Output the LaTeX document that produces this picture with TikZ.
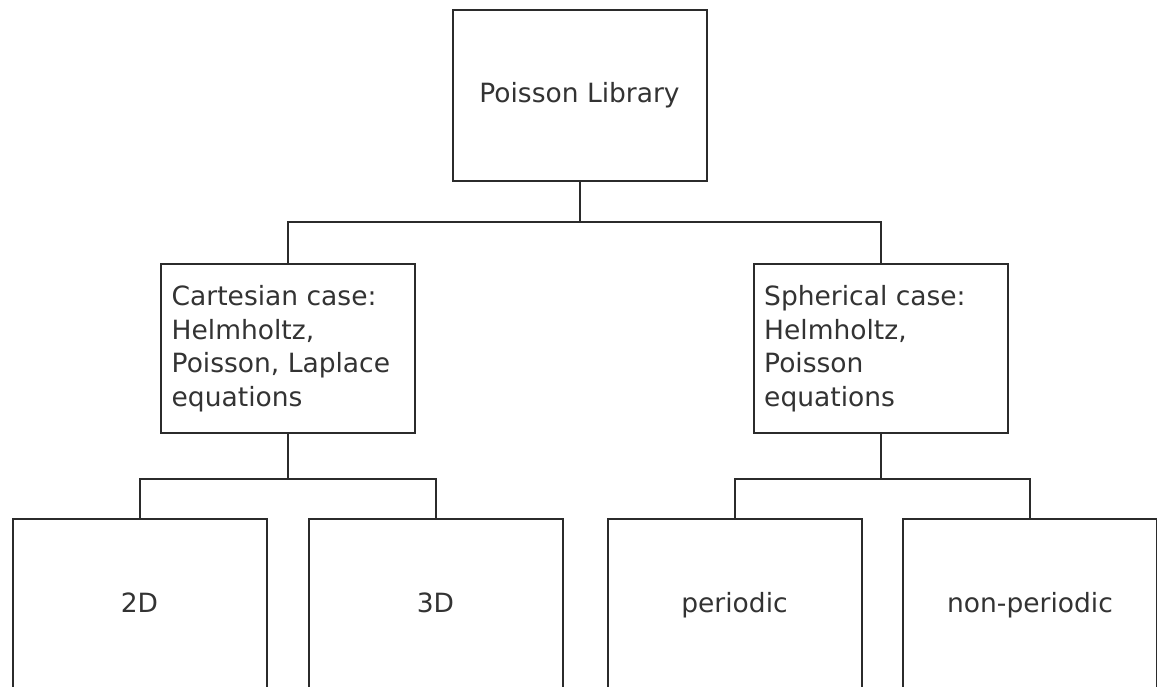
\documentclass[tikz,border=0pt]{standalone}
\usepackage{fontspec}
\setmainfont{DejaVu Sans}
\definecolor{ink}{HTML}{2B2B2B}
\definecolor{txt}{HTML}{333333}
\begin{document}
\begin{tikzpicture}[x=1pt,y=-1pt,
  box/.style={draw=ink, line width=2pt, fill=white, minimum width=254pt,
    inner sep=0pt, text height=19.3pt, text depth=4.3pt,
    font=\fontsize{26.5}{33.5}\selectfont, text=txt},
  tall/.style={box, minimum height=171pt},
  mid/.style={box, minimum height=169.5pt},
  label/.style={anchor=west, align=left, inner sep=0pt, text=txt,
    font=\fontsize{26.5}{33.5}\selectfont},
  wire/.style={draw=ink, line width=2pt}]
\useasboundingbox (0,0) rectangle (1157,686);
\clip (0,0) rectangle (1157,686);
\fill[white] (0,0) rectangle (1157,686);

% connectors (drawn first, boxes sit on top)
\coordinate (r) at (579.5,95);
\coordinate (c) at (288,348.7);
\coordinate (s) at (880.5,348.7);
\coordinate (bus1) at (579.5,221.5);
\coordinate (bus2) at (288,479);
\coordinate (bus3) at (880.5,479);

% root
\node[tall] (root) at (r) {Poisson Library};

% second level
\node[mid] (cart) at (c) {};
\node[label] (cartt) at ([xshift=11.5pt]cart.west) {Cartesian case:\\Helmholtz,\\Poisson, Laplace\\equations};
\node[mid] (sph) at (s) {};
\node[label] (spht) at ([xshift=11.5pt]sph.west) {Spherical case:\\Helmholtz,\\Poisson\\equations};

% leaves (run past the lower edge)
\node[tall] (twod) at (139.5,604.5) {2D};
\node[tall] (threed) at (435.5,604.5) {3D};
\node[tall] (per) at (734.5,604.5) {periodic};
\node[tall] (nonper) at (1030,604.5) {non-periodic};

\draw[wire] (root.south) -- (bus1);
\draw[wire] (bus1) -| (cart.north);
\draw[wire] (bus1) -| (sph.north);

\draw[wire] (cart.south) -- (bus2);
\draw[wire] (bus2) -| (twod.north);
\draw[wire] (bus2) -| (threed.north);

\draw[wire] (sph.south) -- (bus3);
\draw[wire] (bus3) -| (per.north);
\draw[wire] (bus3) -| (nonper.north);
\end{tikzpicture}
\end{document}
